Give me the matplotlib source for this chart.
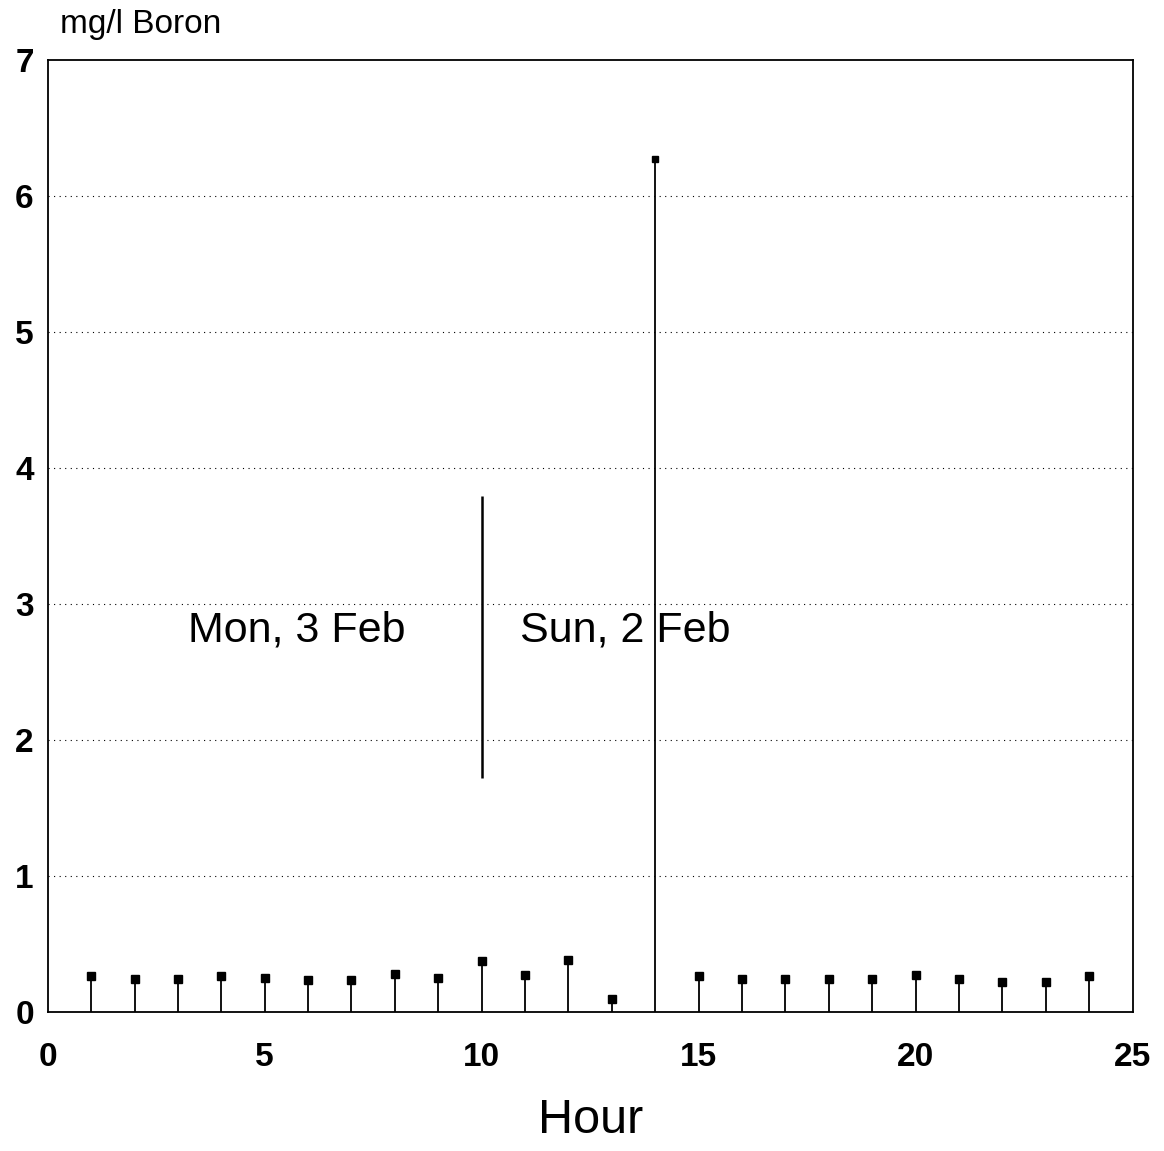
import matplotlib
matplotlib.use("Agg")
import matplotlib.pyplot as plt

hours = [1, 2, 3, 4, 5, 6, 7, 8, 9, 10, 11, 12, 13, 14, 15, 16, 17, 18, 19, 20, 21, 22, 23, 24]
boron = [0.26, 0.24, 0.24, 0.26, 0.25, 0.23, 0.23, 0.28, 0.25, 0.37, 0.27, 0.38, 0.09, 6.27,
         0.26, 0.24, 0.24, 0.24, 0.24, 0.27, 0.24, 0.22, 0.22, 0.26]
divider_x = 10
divider_y = (1.72, 3.79)
day_labels = ["Mon, 3 Feb", "Sun, 2 Feb"]
day_label_x = [5.75, 13.3]
day_label_y = 2.8
xticks = [0, 5, 10, 15, 20, 25]
yticks = [0, 1, 2, 3, 4, 5, 6, 7]

plt.rcParams['font.family'] = ['Liberation Sans', 'DejaVu Sans']

fig = plt.figure(figsize=(11.64, 11.51), dpi=100)
ax = fig.add_axes([0.041, 0.121, 0.932, 0.827])

for h, v in zip(hours, boron):
    ax.vlines(h, 0, v, color='black', lw=1.3)
    ax.plot(h, v, 's', color='black', ms=6 if v < 1 else 5)

ax.vlines(divider_x, divider_y[0], divider_y[1], color='black', lw=1.8)
for lab, x in zip(day_labels, day_label_x):
    ax.text(x, day_label_y, lab, fontsize=31, ha='center', va='center')

ax.set_xlim(0, 25)
ax.set_ylim(0, 7)
ax.set_xticks(xticks)
ax.set_yticks(yticks)
ax.tick_params(length=0, labelsize=24)
for t in ax.get_xticklabels() + ax.get_yticklabels():
    t.set_fontweight('bold')
ax.tick_params(axis='x', pad=22)
ax.tick_params(axis='y', pad=10)
for y in yticks[1:-1]:
    ax.axhline(y, color='black', lw=0.8, ls=(0, (1, 4)))
for s in ax.spines.values():
    s.set_linewidth(1.3)

ax.set_xlabel("Hour", fontsize=35, labelpad=18)
fig.text(60 / 1164, 1 - 25 / 1151, "mg/l Boron", fontsize=24, va='center', ha='left')

fig.savefig("out.png", dpi=100)
